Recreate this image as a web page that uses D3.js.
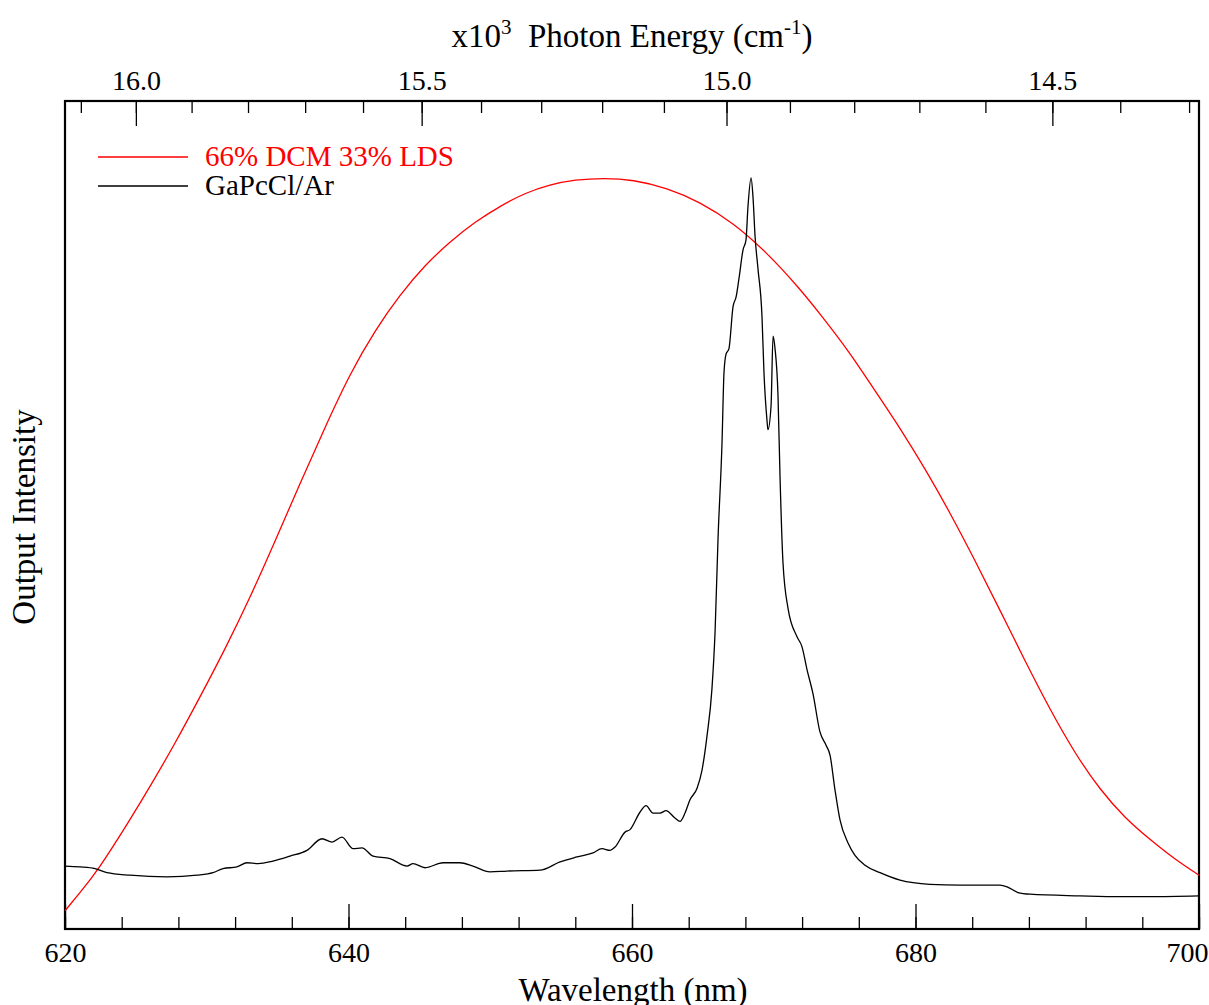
<!DOCTYPE html>
<html>
<head>
<meta charset="utf-8">
<script src="https://cdn.jsdelivr.net/npm/d3@7"></script>
<style>
  body { margin: 0; background: #fff; }
  text { font-family: "Liberation Serif", "Times New Roman", serif; }
</style>
</head>
<body>
<script>
// wavelength (nm) and output intensity (arb. units)
var dyeNm = [620.00, 621.06, 622.33, 624.59, 626.00, 627.76, 629.52, 631.29, 633.05, 634.81,
  636.58, 638.34, 640.11, 641.87, 643.63, 645.40, 647.16, 648.92, 650.69, 652.45,
  654.22, 655.98, 658.02, 660.07, 662.47, 664.80, 667.13, 669.52, 671.85, 673.26,
  675.38, 677.14, 678.91, 680.67, 682.43, 684.20, 685.96, 687.72, 689.49, 691.25,
  693.02, 694.78, 696.54, 698.31, 700.00];
var dyeVal = [0.022, 0.044, 0.071, 0.132, 0.172, 0.224, 0.280, 0.338, 0.400, 0.468,
  0.538, 0.606, 0.671, 0.723, 0.766, 0.802, 0.830, 0.854, 0.873, 0.889,
  0.899, 0.905, 0.907, 0.905, 0.895, 0.878, 0.853, 0.817, 0.773, 0.743,
  0.696, 0.650, 0.605, 0.556, 0.503, 0.445, 0.385, 0.324, 0.265, 0.212,
  0.168, 0.134, 0.108, 0.084, 0.065];

var gaNm = [620.00, 621.06, 622.12, 622.96, 624.59, 627.20, 629.31, 630.44, 631.15, 632.13,
  632.84, 633.62, 634.67, 635.87, 637.07, 638.13, 638.84, 639.54, 640.32, 640.95,
  641.73, 642.93, 644.13, 644.55, 645.40, 646.67, 647.87, 648.78, 649.98, 651.18,
  653.51, 654.92, 656.12, 657.25, 657.88, 658.45, 658.80, 659.51, 659.86, 660.56,
  660.99, 661.48, 661.98, 662.40, 663.03, 663.39, 663.74, 664.09, 664.59, 664.94,
  665.29, 665.64, 665.86, 666.07, 666.35, 666.49, 666.63, 666.84, 667.13, 667.34,
  667.55, 667.83, 668.04, 668.18, 668.40, 668.54, 668.68, 668.89, 669.17, 669.31,
  669.52, 669.59, 669.81, 669.95, 670.09, 670.30, 670.44, 670.65, 671.01, 671.64,
  671.99, 672.35, 672.77, 673.26, 673.69, 673.97, 674.32, 674.67, 675.24, 675.73,
  676.44, 677.50, 678.91, 681.02, 683.14, 685.96, 686.46, 687.23, 688.08, 691.61,
  694.43, 696.54, 700.00];
var gaVal = [0.076, 0.075, 0.073, 0.068, 0.065, 0.063, 0.065, 0.068, 0.073, 0.075,
  0.080, 0.079, 0.082, 0.088, 0.095, 0.109, 0.105, 0.111, 0.097, 0.098,
  0.088, 0.085, 0.076, 0.079, 0.074, 0.080, 0.080, 0.076, 0.069, 0.070,
  0.071, 0.081, 0.087, 0.092, 0.097, 0.095, 0.099, 0.117, 0.120, 0.141,
  0.149, 0.140, 0.140, 0.143, 0.134, 0.130, 0.140, 0.156, 0.170, 0.192,
  0.233, 0.290, 0.359, 0.472, 0.587, 0.672, 0.694, 0.701, 0.752, 0.763,
  0.786, 0.820, 0.832, 0.872, 0.907, 0.883, 0.837, 0.797, 0.740, 0.672,
  0.615, 0.603, 0.632, 0.716, 0.701, 0.644, 0.548, 0.443, 0.387, 0.353,
  0.341, 0.313, 0.284, 0.238, 0.222, 0.210, 0.168, 0.132, 0.104, 0.089,
  0.077, 0.068, 0.059, 0.054, 0.053, 0.053, 0.051, 0.044, 0.042, 0.040,
  0.039, 0.039, 0.040];

var seriesNames = ["66% DCM 33% LDS", "GaPcCl/Ar"];
var seriesColors = ["#ff0000", "#000000"];

var nmTicks = [620, 640, 660, 680, 700];
var energyTicks = [16.0, 15.5, 15.0, 14.5]; // x10^3 cm-1

var W = 1209, H = 1005;
var pLeft = 65, pRight = 1199, pTop = 101, pBottom = 929;

var svg = d3.select("body").append("svg")
  .attr("width", W)
  .attr("height", H);

var x = d3.scaleLinear().domain([620, 700]).range([pLeft, pRight]);
var y = d3.scaleLinear().domain([0, 1]).range([pBottom, pTop]);

// 10^3 cm-1 -> nm
function toNm(e) { return 1e4 / e; }

var nmMinor = d3.range(620, 701, 4);
var energyMinor = d3.range(143, 162).map(function(d){ return d / 10; });

function styleAxis(g){
  g.select(".domain").remove();
  g.selectAll("line").attr("stroke", "#000").attr("stroke-width", 1.3);
  g.selectAll("text").attr("font-size", 28).attr("fill", "#000")
    .attr("font-family", "Liberation Serif, serif");
}

// bottom axis
svg.append("g")
  .attr("transform", "translate(0," + pBottom + ")")
  .call(d3.axisBottom(x).tickValues(nmMinor).tickSize(-12).tickFormat(""))
  .call(styleAxis);
var bottomAxis = svg.append("g")
  .attr("transform", "translate(0," + pBottom + ")")
  .call(d3.axisBottom(x).tickValues(nmTicks).tickSize(-25).tickPadding(13).tickFormat(d3.format("d")))
  .call(styleAxis);
// keep the last label inside the page
bottomAxis.selectAll(".tick text")
  .filter(function(d){ return d === 700; })
  .attr("text-anchor", "end")
  .attr("dx", 9);

// top axis (photon energy)
svg.append("g")
  .attr("transform", "translate(0," + pTop + ")")
  .call(d3.axisTop(x).tickValues(energyMinor.map(toNm)).tickSize(-12).tickFormat(""))
  .call(styleAxis);
svg.append("g")
  .attr("transform", "translate(0," + pTop + ")")
  .call(d3.axisTop(x).tickValues(energyTicks.map(toNm)).tickSize(-25).tickPadding(11)
    .tickFormat(function(d){ return (1e4 / d).toFixed(1); }))
  .call(styleAxis);

// frame
svg.append("rect")
  .attr("x", pLeft).attr("y", pTop)
  .attr("width", pRight - pLeft).attr("height", pBottom - pTop)
  .attr("fill", "none").attr("stroke", "#000").attr("stroke-width", 2.2);

var dye = d3.zip(dyeNm, dyeVal);
var ga = d3.zip(gaNm, gaVal);

var smoothLine = d3.line()
  .x(function(d){ return x(d[0]); })
  .y(function(d){ return y(d[1]); })
  .curve(d3.curveBasis);

var line = d3.line()
  .x(function(d){ return x(d[0]); })
  .y(function(d){ return y(d[1]); })
  .curve(d3.curveMonotoneX);

svg.append("path")
  .datum(dye)
  .attr("d", smoothLine)
  .attr("fill", "none")
  .attr("stroke", seriesColors[0])
  .attr("stroke-width", 1.3);

svg.append("path")
  .datum(ga)
  .attr("d", line)
  .attr("fill", "none")
  .attr("stroke", seriesColors[1])
  .attr("stroke-width", 1.3);

// legend
var legend = svg.selectAll(".legend")
  .data(seriesNames)
  .enter().append("g")
  .attr("class", "legend")
  .attr("transform", function(d, i){ return "translate(98," + (157 + i * 29) + ")"; });

legend.append("line")
  .attr("x1", 0).attr("x2", 90)
  .attr("stroke", function(d, i){ return seriesColors[i]; })
  .attr("stroke-width", 1.3);

legend.append("text")
  .attr("x", 107)
  .attr("y", 9)
  .attr("font-size", 29)
  .attr("fill", function(d, i){ return seriesColors[i]; })
  .text(function(d){ return d; });

// axis titles
svg.append("text")
  .attr("x", 633)
  .attr("y", 1001)
  .attr("text-anchor", "middle")
  .attr("font-size", 33)
  .text("Wavelength (nm)");

svg.append("text")
  .attr("transform", "translate(35," + 517 + ") rotate(-90)")
  .attr("text-anchor", "middle")
  .attr("font-size", 33)
  .text("Output Intensity");

var title = svg.append("text")
  .attr("x", 632)
  .attr("y", 47)
  .attr("text-anchor", "middle")
  .attr("font-size", 33);
title.append("tspan").text("x10");
title.append("tspan").attr("dy", -13).attr("font-size", 21).text("3");
title.append("tspan").attr("dy", 13).text("\u00a0 Photon Energy (cm");
title.append("tspan").attr("dy", -13).attr("font-size", 21).text("-1");
title.append("tspan").attr("dy", 13).text(")");
</script>
</body>
</html>
